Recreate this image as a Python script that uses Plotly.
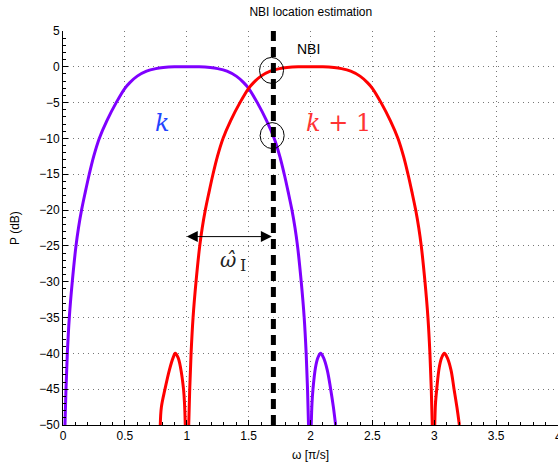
import plotly.graph_objects as go

# Filter k (violet): main lobe read point by point
k_main_w = [0.016, 0.024, 0.035, 0.051, 0.075, 0.105, 0.125, 0.15, 0.18, 0.212,
            0.248, 0.293, 0.355, 0.43, 0.50, 0.54, 0.60, 0.675, 0.75, 0.81,
            0.90, 1.00, 1.10, 1.19, 1.25, 1.325, 1.40, 1.46, 1.50, 1.57,
            1.645, 1.707, 1.752, 1.788, 1.82, 1.85, 1.875, 1.895, 1.925, 1.949,
            1.965, 1.976, 1.984]
k_main_p = [-50, -45, -40, -35, -30, -25, -22.5, -20, -17.5, -15,
            -12.5, -10, -7.5, -5, -3.0, -2.2, -1.3, -0.6, -0.25, -0.1,
            0, 0, 0, -0.1, -0.25, -0.6, -1.3, -2.2, -3.0, -5,
            -7.5, -10, -12.5, -15, -17.5, -20, -22.5, -25, -30, -35,
            -40, -45, -50]
k_side_w = [2.006, 2.012, 2.02, 2.04, 2.06, 2.082, 2.105, 2.135, 2.163, 2.185, 2.203]
k_side_p = [-50, -47, -45, -42, -40.6, -40, -40.6, -42.3, -45, -47.5, -50]

# Filter k+1 (red)
k1_main_w = [1.016, 1.024, 1.035, 1.051, 1.075, 1.105, 1.125, 1.15, 1.18, 1.212,
             1.248, 1.293, 1.355, 1.43, 1.50, 1.54, 1.60, 1.675, 1.75, 1.81,
             1.90, 2.00, 2.10, 2.19, 2.25, 2.325, 2.40, 2.46, 2.50, 2.57,
             2.645, 2.707, 2.752, 2.788, 2.82, 2.85, 2.875, 2.895, 2.925, 2.949,
             2.965, 2.976, 2.984]
k1_main_p = [-50, -45, -40, -35, -30, -25, -22.5, -20, -17.5, -15,
             -12.5, -10, -7.5, -5, -3.0, -2.2, -1.3, -0.6, -0.25, -0.1,
             0, 0, 0, -0.1, -0.25, -0.6, -1.3, -2.2, -3.0, -5,
             -7.5, -10, -12.5, -15, -17.5, -20, -22.5, -25, -30, -35,
             -40, -45, -50]
k1_left_w = [0.786, 0.795, 0.824, 0.86, 0.89, 0.907, 0.93, 0.95, 0.974, 0.982, 0.988]
k1_left_p = [-50, -47.5, -45, -42.3, -40.6, -40, -40.6, -42, -45, -47, -50]
k1_right_w = [3.004, 3.01, 3.02, 3.04, 3.06, 3.082, 3.105, 3.135, 3.16, 3.183, 3.203]
k1_right_p = [-50, -47, -45, -42, -40.6, -40, -40.6, -42.3, -45, -47.5, -50]

# Interference location and estimate
nbi_w = 1.7
y_span = [5, -50]
marked_w = [1.685, 1.69]
marked_p = [-0.5, -9.6]
est_from = 1.0
est_level = -23.7

x_ticks = [0, 0.5, 1, 1.5, 2, 2.5, 3, 3.5, 4]
y_ticks = list(range(5, -51, -5))

VIOLET = "#7f00ff"
RED = "#ff0000"

fig = go.Figure()

def add_curve(w, p, color):
    fig.add_trace(go.Scatter(x=w, y=p, mode="lines",
                             line=dict(color=color, width=3, shape="spline", smoothing=1.0),
                             hoverinfo="skip", showlegend=False))

add_curve(k_main_w, k_main_p, VIOLET)
add_curve(k_side_w, k_side_p, VIOLET)
add_curve(k1_main_w, k1_main_p, RED)
add_curve(k1_left_w, k1_left_p, RED)
add_curve(k1_right_w, k1_right_p, RED)

# NBI marker line
fig.add_trace(go.Scatter(x=[nbi_w, nbi_w], y=y_span, mode="lines",
                         line=dict(color="black", width=5, dash="10px,6px"),
                         hoverinfo="skip", showlegend=False))

# circles at the two crossing points
for cw, cp in zip(marked_w, marked_p):
    fig.add_shape(type="circle", xref="x", yref="y",
                  xsizemode="pixel", ysizemode="pixel",
                  xanchor=cw, yanchor=cp, x0=-12, x1=12, y0=-13, y1=13,
                  line=dict(color="black", width=1))

# double-headed arrow for the estimated offset
fig.add_annotation(x=est_from, y=est_level, ax=nbi_w, ay=est_level,
                   xref="x", yref="y", axref="x", ayref="y",
                   text="", showarrow=True, arrowside="end+start",
                   arrowhead=2, startarrowhead=2, arrowsize=2.2, startarrowsize=2.2,
                   arrowwidth=1, arrowcolor="black")

fig.add_annotation(x=1.37, y=-27.2, xref="x", yref="y", showarrow=False,
                   text="<i>ω\u0302</i><span style='font-size:18px'>\u2009</span>"
                        "<sub><span style='font-size:16px'>I</span></sub>",
                   font=dict(family="DejaVu Serif", size=20, color="#222"))
fig.add_annotation(x=0.80, y=-7.8, xref="x", yref="y", showarrow=False,
                   text="<i>k</i>",
                   font=dict(family="DejaVu Serif", size=24, color="#2244ff"))
fig.add_annotation(x=2.23, y=-7.8, xref="x", yref="y", showarrow=False,
                   text="<i>k</i> + 1",
                   font=dict(family="DejaVu Serif", size=24, color="#ff3333"))
fig.add_annotation(x=1.98, y=2.5, xref="x", yref="y", showarrow=False,
                   text="NBI",
                   font=dict(family="Liberation Sans", size=14, color="black"))

# last x tick label sits on the figure edge
fig.add_annotation(x=x_ticks[-1], y=0, xref="x", yref="paper", showarrow=False,
                   text=f"{x_ticks[-1]:g}", yanchor="top", yshift=-3,
                   font=dict(family="Liberation Sans", size=12, color="black"))

# axis titles
fig.add_annotation(x=0.5, y=-0.077, xref="paper", yref="paper", showarrow=False,
                   text="ω [π/s]", yanchor="middle",
                   font=dict(family="Liberation Sans", size=12, color="black"))
fig.add_annotation(x=-0.097, y=0.5, xref="paper", yref="paper", showarrow=False,
                   text="P (dB)", textangle=-90, xanchor="center",
                   font=dict(family="Liberation Sans", size=12, color="black"))

grid = dict(showgrid=True, gridcolor="#777", gridwidth=1, griddash="1px,4px")

fig.update_layout(
    width=558, height=467,
    margin=dict(l=63, r=0, t=31, b=42),
    paper_bgcolor="white", plot_bgcolor="white",
    font=dict(family="Liberation Sans", size=12, color="black"),
    title=dict(text="NBI location estimation", x=0.557, xanchor="center",
               y=0.974, yanchor="middle", font=dict(size=12)),
    showlegend=False,
    xaxis=dict(range=[0, 4], tickvals=x_ticks,
               ticktext=[f"{v:g}" for v in x_ticks[:-1]] + [""],
               showline=True, linecolor="black", linewidth=1,
               ticks="inside", ticklen=5, tickcolor="black",
               minor=dict(dtick=0.1, ticks="inside", ticklen=3, tickcolor="black", showgrid=False),
               zeroline=False, **grid),
    yaxis=dict(range=[-50, 5], tickvals=y_ticks,
               showline=True, linecolor="black", linewidth=1,
               ticks="inside", ticklen=5, tickcolor="black",
               minor=dict(dtick=1, ticks="inside", ticklen=3, tickcolor="black", showgrid=False),
               zeroline=False, **grid),
)

fig.write_html("out.html")
